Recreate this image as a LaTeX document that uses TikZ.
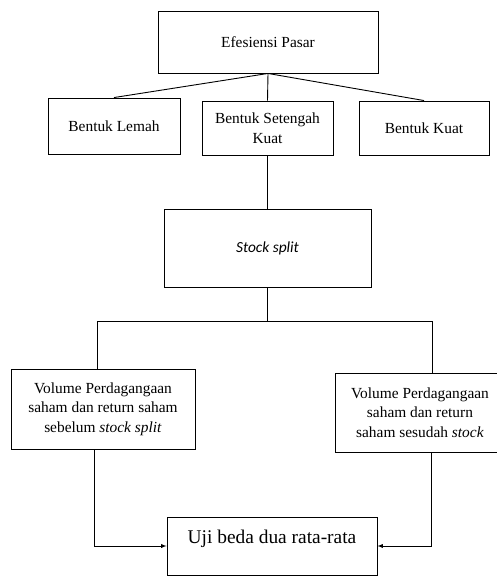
\documentclass[tikz,border=0pt]{standalone}
\usepackage{fontspec}
\setmainfont{Liberation Serif}
\newfontfamily\splitfont{Carlito}

\begin{document}
\begin{tikzpicture}[x=1pt,y=-1pt]
        % Define the style for the nodes
        \tikzset{box/.style={draw,rectangle,line width=0.9pt,align=center,inner sep=4pt,
                font=\fontsize{15.4}{19.5}\selectfont},
                every path/.style={line width=0.9pt}}

        \useasboundingbox (0,0) rectangle (496,576);

        % Nodes
        \node[box,minimum width=220,minimum height=62] (pasar) at (268,42) {Efesiensi Pasar};
        \node[box,minimum width=132,minimum height=56] (lemah) at (114,126) {Bentuk Lemah};
        \node[box,minimum width=131,minimum height=54] (setengah) at (267.5,128) {Bentuk Setengah\\Kuat};
        \node[box,minimum width=130,minimum height=54] (kuat) at (424,128) {Bentuk Kuat};
        \node[box,minimum width=207,minimum height=78] (split) at (267.5,248) {\splitfont\itshape Stock split};
        \node[box,minimum width=184,minimum height=80] (sebelum) at (103,409)
                {Volume Perdagangaan\\saham dan return saham\\sebelum \textit{stock split}};
        \node[box,minimum width=170,minimum height=79] (sesudah) at (420,412.5)
                {Volume Perdagangaan\\saham dan return\\saham sesudah \textit{stock}};
        \node[box,minimum width=210,anchor=base,text height=22pt,text depth=28pt,
                font=\fontsize{19.4}{23}\selectfont] (uji) at (272,543) {Uji beda dua rata-rata};

        % Edges
        \draw (pasar.south) -- (lemah.north);
        \draw (pasar.south) -- (setengah.north);
        \draw (pasar.south) -- (kuat.north);
        \draw (setengah.south) -- (split.north);
        \draw (split.south) -- ++(0,34) coordinate (fork);
        \draw ([xshift=-6pt]sebelum.north) |- (fork) -| ([xshift=12pt]sesudah.north);
        \draw[-latex] ([xshift=-9pt]sebelum.south) |- (uji.west);
        \draw[-latex] ([xshift=11pt]sesudah.south) |- (uji.east);
    \end{tikzpicture}
\end{document}
